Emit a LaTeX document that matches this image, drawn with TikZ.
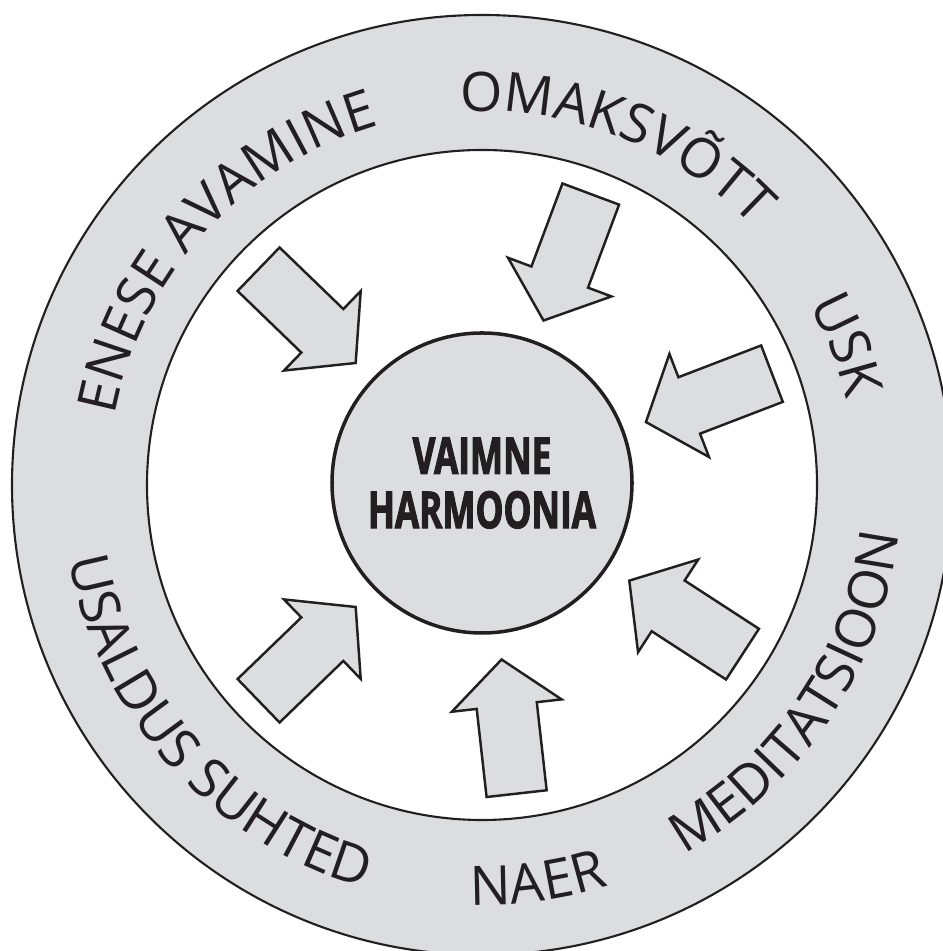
\documentclass[tikz,border=0pt]{standalone}
\usepackage{fontspec}
\setmainfont{Open Sans}
\newfontfamily\hubfont[FakeStretch=0.69,FakeBold=2]{Open Sans}
\usepackage{tikz}
\usetikzlibrary{shapes.arrows,decorations.text}
\usepackage{xcolor}
\definecolor{ringgrey}{RGB}{220,221,222}
\definecolor{inkblack}{RGB}{35,31,32}
\newcommand{\ringtext}{\fontsize{15.5}{18}\selectfont}

\begin{document}
\begin{tikzpicture}[
      ring/.style={draw=inkblack,line width=0.6pt},
      hub/.style={circle,draw=inkblack,line width=1pt,fill=ringgrey,minimum size=3cm,align=center,text=inkblack,font=\hubfont\bfseries\fontsize{14.5}{15.4}\selectfont},
      blk/.style={single arrow,draw=inkblack,line width=0.7pt,fill=ringgrey,inner xsep=0pt,inner ysep=0.29cm,minimum height=1.35cm,single arrow head extend=0.25cm,single arrow tip angle=100,anchor=tip},
      arclbl/.style={decorate,decoration={text along path,text align=center,text color=inkblack,text={|\ringtext|#1}}}
    ]
    \useasboundingbox (-4.82,-4.66) rectangle (4.60,4.85);
    \fill[ringgrey,even odd rule] (0,0) circle[radius=4.70cm] (0,0) circle[radius=3.35cm];
    \draw[ring] (0,0) circle[radius=4.70cm];
    \draw[ring] (0,0) circle[radius=3.35cm];
    \node[hub] (hub) at (0,0.02) {VAIMNE\\HARMOONIA};
    \foreach \a/\nm in {136/enese,69.5/omaks,21/usk,-33/medit,-83.6/naer,224/usald}
      \node[blk,rotate=\a+180] (\nm) at (\a:1.74) {};
    \path[arclbl=ENESE AVAMINE] (197.6:3.74) arc[start angle=197.6,end angle=77.6,radius=3.74cm];
    \path[arclbl=OMAKSVÕTT] (128.5:3.74) arc[start angle=128.5,end angle=8.5,radius=3.74cm];
    \path[arclbl=USK] (81:3.74) arc[start angle=81,end angle=-39,radius=3.74cm];
    \path[arclbl=MEDITATSIOON] (-94:4.20) arc[start angle=-94,end angle=26,radius=4.20cm];
    \path[arclbl=NAER] (-142:4.20) arc[start angle=-142,end angle=-22,radius=4.20cm];
    \path[arclbl=USALDUS SUHTED] (162:4.20) arc[start angle=162,end angle=282,radius=4.20cm];
  \end{tikzpicture}
\end{document}
